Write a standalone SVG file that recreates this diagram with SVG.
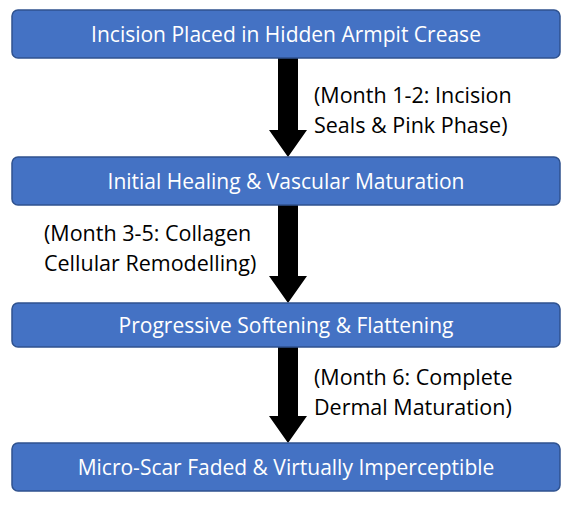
<svg xmlns="http://www.w3.org/2000/svg" width="570" height="511" viewBox="0 0 570 511">
<style>
.box{fill:#4472C4;stroke:#2F528F;stroke-width:1.5}
.bt{font-family:"Open Sans","Liberation Sans",sans-serif;font-size:21px;fill:#fff;text-anchor:middle;dominant-baseline:central}
.lb{font-family:"Open Sans","Liberation Sans",sans-serif;font-size:21.5px;fill:#000}
.ar{fill:#000}
</style>
<rect width="570" height="511" fill="#fff"/>
<g id="connectors">
<polygon class="ar" points="278,58 298,58 298,130 307,130 288,157 269,130 278,130"/>
<polygon class="ar" points="278,205 298,205 298,276 307,276 288,303 269,276 278,276"/>
<polygon class="ar" points="278,347 298,347 298,416 307,416 288,443 269,416 278,416"/>
<text class="lb" x="314" y="103">(Month 1-2: Incision</text>
<text class="lb" x="314" y="133">Seals &amp; Pink Phase)</text>
<text class="lb" x="44" y="241">(Month 3-5: Collagen</text>
<text class="lb" x="44" y="271">Cellular Remodelling)</text>
<text class="lb" x="314" y="385">(Month 6: Complete</text>
<text class="lb" x="314" y="415">Dermal Maturation)</text>
</g>
<g id="node1"><rect class="box" x="12" y="10" width="548" height="48" rx="6"/><text class="bt" x="286" y="34">Incision Placed in Hidden Armpit Crease</text></g>
<g id="node2"><rect class="box" x="12" y="157" width="548" height="48" rx="6"/><text class="bt" x="286" y="181">Initial Healing &amp; Vascular Maturation</text></g>
<g id="node3"><rect class="box" x="12" y="303" width="548" height="44" rx="6"/><text class="bt" x="286" y="325">Progressive Softening &amp; Flattening</text></g>
<g id="node4"><rect class="box" x="12" y="443" width="548" height="48" rx="6"/><text class="bt" x="286" y="467">Micro-Scar Faded &amp; Virtually Imperceptible</text></g>
</svg>
